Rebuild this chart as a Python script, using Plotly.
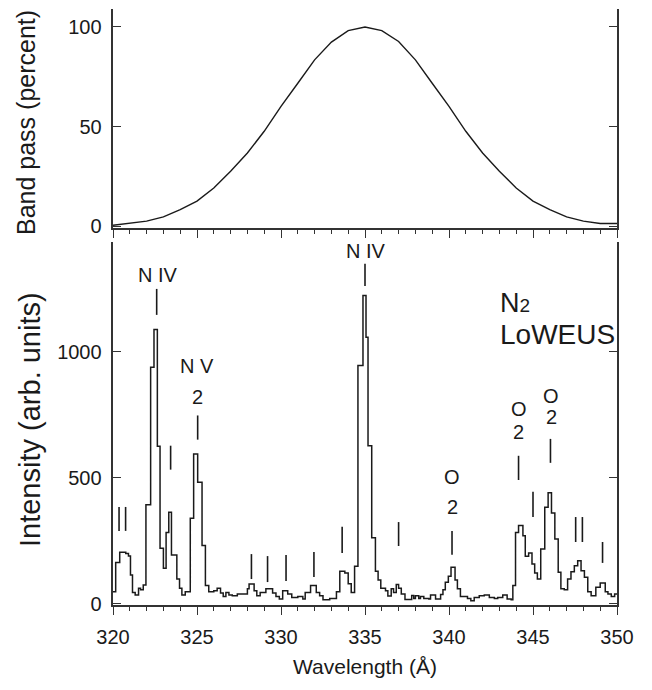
import plotly.graph_objects as go

# ---------------- data ----------------
band_wl = [320, 321, 322, 323, 324, 325, 326, 327, 328, 329, 330, 331, 332, 333, 334, 335,
           336, 337, 338, 339, 340, 341, 342, 343, 344, 345, 346, 347, 348, 349, 350]
band_pct = [0.6, 1.5, 2.7, 4.8, 8.5, 12.7, 19.3, 27.7, 36.8, 47.7, 60.2, 71.8, 83.5, 92.4, 98.2, 100,
            98.2, 92.7, 83.5, 71.8, 60.2, 47.7, 36.8, 27.7, 19.3, 12.7, 8.5, 4.8, 2.7, 1.5, 1.5]

spec_wl = [320.00, 320.16, 320.40, 320.76, 320.92, 321.04, 321.16, 321.32, 321.52, 321.64,
           321.80, 321.96, 322.24, 322.44, 322.64, 322.80, 323.00, 323.16, 323.32, 323.48,
           323.80, 323.96, 324.10, 324.30, 324.60, 324.80, 325.04, 325.30, 325.50, 325.70,
           326.00, 326.20, 326.40, 326.56, 326.72, 326.90, 327.10, 327.40, 328.00, 328.10,
           328.40, 328.56, 328.76, 329.10, 329.50, 329.70, 329.90, 330.10, 330.40, 330.64,
           331.00, 331.30, 331.44, 331.76, 332.10, 332.30, 332.50, 332.90, 333.30, 333.50,
           333.80, 334.00, 334.18, 334.38, 334.58, 334.88, 335.06, 335.18, 335.40, 335.62,
           335.78, 335.94, 336.22, 336.36, 336.56, 336.70, 336.86, 337.00, 337.16, 337.38,
           337.78, 337.90, 338.00, 338.20, 338.30, 338.50, 338.80, 338.90, 339.20, 339.50,
           339.64, 339.78, 339.96, 340.12, 340.36, 340.50, 340.68, 341.10, 341.30, 341.50,
           341.80, 342.10, 342.40, 342.70, 342.90, 343.20, 343.46, 343.70, 343.80, 343.96,
           344.14, 344.40, 344.54, 344.74, 344.94, 345.10, 345.26, 345.46, 345.70, 345.90,
           346.10, 346.30, 346.50, 346.66, 346.86, 347.06, 347.26, 347.46, 347.66, 347.86,
           348.06, 348.26, 348.46, 348.74, 349.00, 349.30, 349.46, 349.66, 349.86, 350.00]
spec_int = [49, 165, 205, 200, 190, 115, 46, 36, 62, 57,
            75, 394, 939, 1089, 626, 221, 142, 284, 364, 194,
            99, 62, 36, 49, 340, 595, 483, 232, 73, 49,
            53, 62, 44, 30, 46, 36, 33, 40, 60, 79,
            53, 33, 46, 60, 44, 30, 20, 53, 40, 26,
            30, 20, 46, 73, 46, 33, 17, 22, 49, 130,
            123, 80, 46, 150, 946, 1224, 1058, 628, 263, 130,
            95, 62, 53, 32, 60, 46, 77, 62, 40, 18,
            34, 22, 33, 22, 30, 22, 20, 36, 20, 38,
            57, 86, 110, 146, 95, 60, 30, 22, 13, 26,
            33, 36, 26, 22, 26, 36, 20, 17, 73, 284,
            311, 271, 189, 202, 159, 123, 99, 218, 384, 441,
            361, 258, 126, 60, 57, 99, 128, 152, 172, 132,
            106, 49, 33, 66, 83, 49, 40, 30, 40, 40]

mark_wl = [320.36, 320.75, 322.60, 323.43, 325.04, 328.24, 329.20, 330.30, 331.96, 333.64,
           335.00, 337.00, 340.18, 344.14, 345.00, 346.04, 347.54, 347.94, 349.14]
mark_lo = [290, 290, 1147, 533, 652, 99, 87, 91, 107, 202,
           1262, 230, 195, 492, 345, 560, 246, 246, 163]
mark_hi = [385, 385, 1250, 628, 748, 198, 190, 194, 206, 306,
           1350, 325, 290, 588, 445, 655, 345, 345, 246]

label_text = ["N IV", "N V", "2", "N IV", "O", "2", "O", "2", "O", "2"]
label_wl = [322.7, 325.0, 325.0, 335.05, 340.18, 340.18, 344.15, 344.15, 346.08, 346.08]
label_int = [1306, 945, 822, 1401, 504, 385, 774, 683, 826, 742]

x_ticks = [320, 325, 330, 335, 340, 345, 350]
band_ticks = [0, 50, 100]
int_ticks = [0, 500, 1000]

# ---------------- figure ----------------
FONT = "Liberation Sans, Arial, Helvetica, sans-serif"
AX = "#333333"
INK = "#1a1a1a"
NB = "\u00a0"

fig = go.Figure()

fig.add_trace(go.Scatter(x=band_wl, y=band_pct, mode="lines",
                         line=dict(color=INK, width=1.4), xaxis="x", yaxis="y",
                         showlegend=False, hoverinfo="skip"))

fig.add_trace(go.Scatter(x=spec_wl, y=spec_int, mode="lines", line_shape="hv",
                         line=dict(color=INK, width=1.5), xaxis="x2", yaxis="y2",
                         showlegend=False, hoverinfo="skip"))

mx, my = [], []
for w, lo, hi in zip(mark_wl, mark_lo, mark_hi):
    mx += [w, w, None]
    my += [lo, hi, None]
fig.add_trace(go.Scatter(x=mx, y=my, mode="lines", line=dict(color=INK, width=1.6),
                         xaxis="x2", yaxis="y2", showlegend=False, hoverinfo="skip"))

annotations = []
for t, w, v in zip(label_text, label_wl, label_int):
    annotations.append(dict(x=w, y=v, xref="x2", yref="y2", text=t, showarrow=False,
                            font=dict(family=FONT, size=20, color=INK),
                            xanchor="center", yanchor="middle"))
annotations.append(dict(x=342.9, y=1195, xref="x2", yref="y2",
                        text="N<span style='font-size:19px'>2</span>", showarrow=False,
                        font=dict(family=FONT, size=27, color=INK),
                        xanchor="left", yanchor="middle"))
annotations.append(dict(x=342.9, y=1068, xref="x2", yref="y2", text="LoWEUS",
                        showarrow=False, font=dict(family=FONT, size=28, color=INK),
                        xanchor="left", yanchor="middle"))
# y-axis titles placed precisely beside the panels
annotations.append(dict(x=0, y=0.8087, xref="paper", yref="paper", xshift=-87,
                        text="Band pass (percent)", textangle=-90, showarrow=False,
                        font=dict(family=FONT, size=25, color=INK),
                        xanchor="center", yanchor="middle"))
annotations.append(dict(x=0, y=0.3104, xref="paper", yref="paper", xshift=-83,
                        text="Intensity (arb. units)", textangle=-90, showarrow=False,
                        font=dict(family=FONT, size=29, color=INK),
                        xanchor="center", yanchor="middle"))

tickfont = dict(family=FONT, size=20, color=INK)

xcommon = dict(range=[320, 350], showgrid=False, zeroline=False, showline=True,
               linecolor=AX, linewidth=1.6, tickmode="array", tickvals=x_ticks,
               tickcolor=AX, tickwidth=1.3, ticklen=8, automargin=False,
               minor=dict(dtick=1, ticklen=4, tickcolor=AX, tickwidth=1.2))

fig.update_layout(
    width=644, height=682,
    margin=dict(l=105, r=35, t=1, b=85, autoexpand=False),
    paper_bgcolor="white", plot_bgcolor="white",
    font=dict(family=FONT, color=INK),
    xaxis=dict(**xcommon, domain=[0, 1], anchor="y", ticks="outside",
               showticklabels=False),
    xaxis3=dict(**xcommon, overlaying="x", side="top", anchor="y", ticks="inside",
                showticklabels=False),
    yaxis=dict(domain=[0.6326, 1], range=[-0.75, 109.0], anchor="x", automargin=False,
               showgrid=False, zeroline=False, showline=True, mirror="ticks",
               linecolor=AX, linewidth=1.6, ticks="inside", ticklen=8,
               tickcolor=AX, tickwidth=1.3, tickmode="array", tickvals=band_ticks,
               ticktext=[f"{v}{NB}" for v in band_ticks], tickfont=tickfont),
    xaxis2=dict(**xcommon, domain=[0, 1], anchor="y2", ticks="outside",
                showticklabels=True, tickfont=tickfont, ticklabelstandoff=5,
                title=dict(text="Wavelength (Å)",
                           font=dict(family=FONT, size=21, color=INK), standoff=13)),
    yaxis2=dict(domain=[0, 0.609], range=[-4, 1436], anchor="x2", automargin=False,
                showgrid=False, zeroline=False, showline=True, mirror="ticks",
                linecolor=AX, linewidth=1.6, ticks="inside", ticklen=8,
                tickcolor=AX, tickwidth=1.3, tickmode="array", tickvals=int_ticks,
                ticktext=[f"{v}{NB}" for v in int_ticks], tickfont=tickfont),
    annotations=annotations,
)

fig.write_html("out.html")
